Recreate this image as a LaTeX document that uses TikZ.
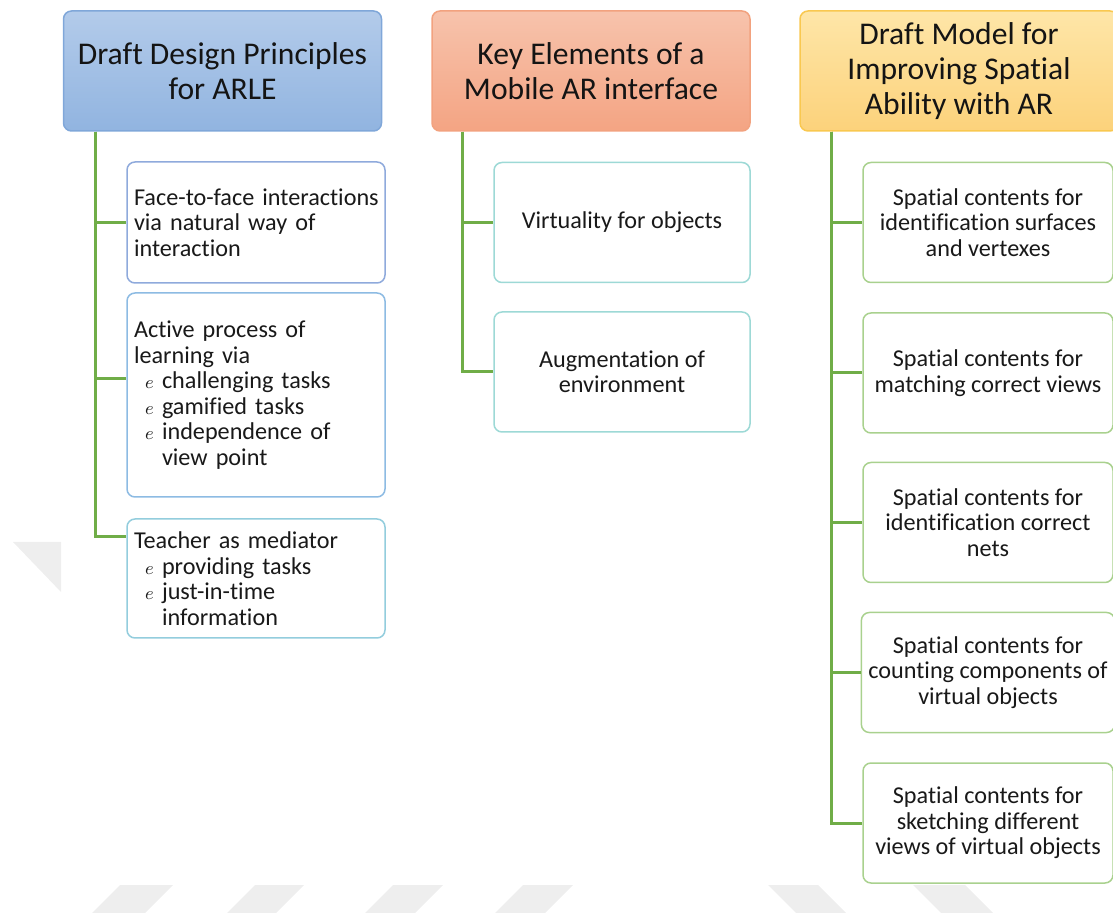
\documentclass[tikz,border=0pt]{standalone}
\usepackage{fontspec}
\setmainfont{Carlito}[Ligatures=NoCommon]
\usepackage{tikz}

\definecolor{dptop}{HTML}{B3CBEA}
\definecolor{dpbot}{HTML}{91B4E0}
\definecolor{dpline}{HTML}{80A7D9}
\definecolor{ketop}{HTML}{F7C3AC}
\definecolor{kebot}{HTML}{F4A483}
\definecolor{keline}{HTML}{F2A27F}
\definecolor{dmtop}{HTML}{FEE6A8}
\definecolor{dmbot}{HTML}{FCD27B}
\definecolor{dmline}{HTML}{F9C850}
\definecolor{dponeline}{HTML}{8FAADC}
\definecolor{dptwoline}{HTML}{8DBBE3}
\definecolor{dpthreeline}{HTML}{93CDDD}
\definecolor{keleaf}{HTML}{9DD9D6}
\definecolor{dmleaf}{HTML}{A9D18E}
\definecolor{stem}{HTML}{70AD47}
\definecolor{stripegrey}{HTML}{EEEEEE}

\newcommand{\ebul}{\hspace*{5.5pt}\makebox[8.5pt][l]{\fontsize{9}{9}\selectfont$e$}}
\newcommand{\ebulskip}{\hspace*{14pt}}

\begin{document}
\begin{tikzpicture}[x=0.5pt,y=-0.5pt,
  head/.style={draw,rounded corners=4pt,line width=0.75pt,minimum width=159pt,
    minimum height=60pt,align=center,text=black!92,
    font=\fontsize{15.8}{17.5}\selectfont},
  leaf/.style={draw,rounded corners=4pt,line width=0.75pt,fill=white,
    inner xsep=3.5pt,minimum height=60pt,text=black!90,
    font=\fontsize{12.1}{12.75}\selectfont},
  link/.style={draw=stem,line width=1.5pt}]
\useasboundingbox (0,0) rectangle (1113,913);

\fill[stripegrey] (92,913) -- (145,913) -- (173,885) -- (120,885) -- cycle;
\fill[stripegrey] (227,913) -- (276,913) -- (304,885) -- (255,885) -- cycle;
\fill[stripegrey] (365,913) -- (415,913) -- (443,885) -- (393,885) -- cycle;
\fill[stripegrey] (495,913) -- (545,913) -- (573,885) -- (523,885) -- cycle;
\fill[stripegrey] (796,913) -- (846,913) -- (818,885) -- (768,885) -- cycle;
\fill[stripegrey] (941,913) -- (993,913) -- (965,885) -- (913,885) -- cycle;
\fill[stripegrey] (13,542) -- (61,542) -- (61,592) -- cycle;

\node[head,top color=dptop,bottom color=dpbot,draw=dpline] (dp) at (222.5,71)
  {Draft Design Principles\\for ARLE};
\node[head,top color=ketop,bottom color=kebot,draw=keline] (ke) at (591,71)
  {Key Elements of a\\Mobile AR interface};
\node[head,top color=dmtop,bottom color=dmbot,draw=dmline] (dm) at (959,71)
  {Draft Model for\\Improving Spatial\\Ability with AR};

\node[leaf,draw=dponeline,text width=122pt,align=left,minimum height=60.5pt] (dp1) at (256,222.5)
  {\mbox{Face-to-face interactions}\\via natural way of\\interaction};
\node[leaf,draw=dptwoline,text width=122pt,align=left,minimum height=102pt] (dp2) at (256,395)
  {Active process of\\learning via\\\ebul challenging tasks\\\ebul gamified tasks\\
   \ebul independence of\\\ebulskip view point};
\node[leaf,draw=dpthreeline,text width=122pt,align=left,minimum height=59.5pt] (dp3) at (256,578.5)
  {Teacher as mediator\\\ebul providing tasks\\\ebul just-in-time\\\ebulskip information};

\node[leaf,draw=keleaf,minimum width=128pt,align=center] (ke1) at (622,222.5) {Virtuality for objects};
\node[leaf,draw=keleaf,minimum width=128pt,align=center] (ke2) at (622,372) {Augmentation of\\environment};

\node[leaf,draw=dmleaf,minimum width=125pt,align=center] (dm1) at (988,222.5)
  {Spatial contents for\\identification surfaces\\and vertexes};
\node[leaf,draw=dmleaf,minimum width=125pt,align=center] (dm2) at (988,373)
  {Spatial contents for\\matching correct views};
\node[leaf,draw=dmleaf,minimum width=125pt,align=center] (dm3) at (988,522.5)
  {Spatial contents for\\identification correct\\nets};
\node[leaf,draw=dmleaf,minimum width=125pt,align=center] (dm4) at (988,672.5)
  {Spatial contents for\\counting components of\\virtual objects};
\node[leaf,draw=dmleaf,minimum width=125pt,align=center] (dm5) at (988,823)
  {Spatial contents for\\sketching different\\views of virtual objects};

\draw[link] ([xshift=16.5pt]dp.south west) |- (dp1.west);
\draw[link] ([xshift=16.5pt]dp.south west) |- ([yshift=8pt]dp2.west);
\draw[link] ([xshift=16.5pt]dp.south west) |- ([yshift=20.75pt]dp3.west);
\draw[link] ([xshift=15.5pt]ke.south west) |- (ke1.west);
\draw[link] ([xshift=15.5pt]ke.south west) |- (ke2.west);
\foreach \i in {1,...,5}
  \draw[link] ([xshift=16pt]dm.south west) |- (dm\i.west);
\end{tikzpicture}
\end{document}
